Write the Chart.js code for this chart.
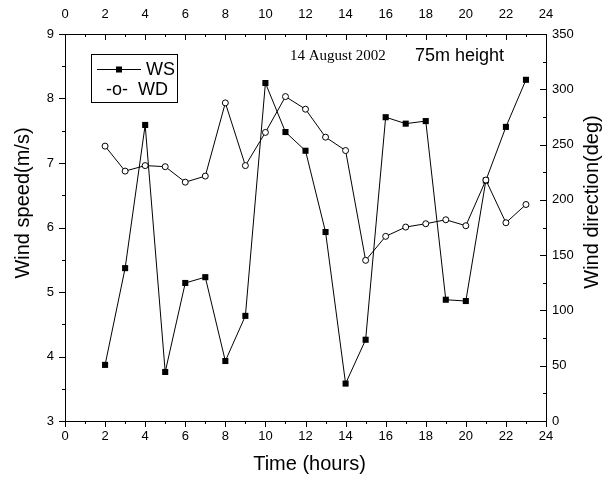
<!DOCTYPE html>
<html>
<head>
<meta charset="utf-8">
<script src="https://cdn.jsdelivr.net/npm/chart.js@4.4.1/dist/chart.umd.min.js"></script>
<style>
  html, body { margin: 0; padding: 0; background: #fff; }
  #wrap { width: 605px; height: 481px; }
</style>
</head>
<body>
<div id="wrap"><canvas id="c" width="605" height="481"></canvas></div>
<script>
// ---- data ----
const hours = [2, 3, 4, 5, 6, 7, 8, 9, 10, 11, 12, 13, 14, 15, 16, 17, 18, 19, 20, 21, 22, 23];
const windSpeed = [3.87, 5.37, 7.59, 3.76, 5.14, 5.23, 3.93, 4.63, 8.24, 7.48, 7.19, 5.93, 3.58, 4.26, 7.71, 7.61, 7.65, 4.88, 4.86, 6.73, 7.56, 8.29];
const windDirection = [248.6, 226, 231, 230, 216, 221.5, 287.7, 231, 261, 293.4, 282, 256.7, 244.6, 145.3, 167, 175.4, 178.4, 182, 176.6, 217.9, 179.3, 195.8];

// ---- axis ranges / tick labels ----
const timeTicks = [0, 2, 4, 6, 8, 10, 12, 14, 16, 18, 20, 22, 24];
const speedTicks = [3, 4, 5, 6, 7, 8, 9];
const directionTicks = [0, 50, 100, 150, 200, 250, 300, 350];

const seriesNames = ['WS', 'WD'];
const xTitle = 'Time (hours)';
const yTitle = 'Wind speed(m/s)';
const y2Title = 'Wind direction(deg)';
const dateNote = '14 August 2002';
const heightNote = '75m height';

Chart.defaults.font.family = '"Liberation Sans", Arial, sans-serif';
Chart.defaults.color = '#000';

const wsPoints = hours.map((h, i) => ({ x: h, y: windSpeed[i] }));
const wdPoints = hours.map((h, i) => ({ x: h, y: windDirection[i] }));

const tickFont = { size: 13, family: '"Liberation Sans", Arial, sans-serif' };

function fixedTicks(values) {
  return function (scale) {
    scale.ticks = values.map(v => ({ value: v }));
  };
}

const decorPlugin = {
  id: 'decor',
  afterDraw(chart) {
    const ctx = chart.ctx;
    const ca = chart.chartArea;
    const sx = chart.scales.x, sy = chart.scales.y, sy2 = chart.scales.y2;
    ctx.save();
    ctx.strokeStyle = '#000';
    ctx.lineWidth = 1;
    const line = (x1, y1, x2, y2) => { ctx.beginPath(); ctx.moveTo(x1, y1); ctx.lineTo(x2, y2); ctx.stroke(); };
    // x ticks (bottom outward, top inward)
    for (let v = timeTicks[0]; v <= timeTicks[timeTicks.length - 1]; v += 1) {
      const px = Math.round(sx.getPixelForValue(v)) + 0.5;
      const len = (v % 2 === 0) ? 6 : 3;
      line(px, ca.bottom, px, ca.bottom + len);
      line(px, ca.top, px, ca.top + len);
    }
    // left ticks outward
    for (let v = speedTicks[0]; v <= speedTicks[speedTicks.length - 1] + 1e-9; v += 0.5) {
      const py = Math.round(sy.getPixelForValue(v)) + 0.5;
      const len = (Math.abs(v - Math.round(v)) < 1e-9) ? 6 : 3;
      line(ca.left - len, py, ca.left, py);
    }
    // right ticks inward
    for (let v = directionTicks[0]; v <= directionTicks[directionTicks.length - 1]; v += 25) {
      const py = Math.round(sy2.getPixelForValue(v)) + 0.5;
      const len = (v % 50 === 0) ? 6 : 3;
      line(ca.right - len, py, ca.right, py);
    }

    // axis titles
    ctx.fillStyle = '#000';
    ctx.font = '20px "Liberation Sans", Arial, sans-serif';
    ctx.textAlign = 'center';
    ctx.textBaseline = 'middle';
    ctx.fillText(xTitle, (ca.left + ca.right) / 2 + 4, 464);
    ctx.save();
    ctx.translate(23, 203);
    ctx.rotate(-Math.PI / 2);
    ctx.fillText(yTitle, 0, 0);
    ctx.restore();
    ctx.save();
    ctx.translate(592, 202);
    ctx.rotate(-Math.PI / 2);
    ctx.fillText(y2Title, 0, 0);
    ctx.restore();

    // legend
    ctx.lineWidth = 1;
    ctx.strokeRect(91.5, 54.5, 86, 48);
    line(97, 69.5, 141, 69.5);
    ctx.fillRect(116, 66.5, 6, 6);
    ctx.font = '18px "Liberation Sans", Arial, sans-serif';
    ctx.textAlign = 'left';
    ctx.fillText(seriesNames[0], 146, 70);
    ctx.fillText('-o-  ' + seriesNames[1], 106, 90);

    // notes
    ctx.font = '15px "Liberation Serif", "Times New Roman", serif';
    ctx.fillText(dateNote, 290, 56);
    ctx.font = '18px "Liberation Sans", Arial, sans-serif';
    ctx.fillText(heightNote, 415, 56);
    ctx.restore();
  }
};

new Chart(document.getElementById('c'), {
  type: 'line',
  data: {
    datasets: [
      {
        label: seriesNames[1],
        data: wdPoints,
        xAxisID: 'x',
        yAxisID: 'y2',
        borderColor: '#000',
        borderWidth: 1,
        pointStyle: 'circle',
        pointRadius: 3,
        pointBorderWidth: 1,
        pointBackgroundColor: '#fff',
        pointBorderColor: '#000',
        tension: 0,
        fill: false
      },
      {
        label: seriesNames[0],
        data: wsPoints,
        xAxisID: 'x',
        yAxisID: 'y',
        borderColor: '#000',
        borderWidth: 1,
        pointStyle: 'rect',
        pointRadius: 4.3,
        pointBorderWidth: 0,
        pointBackgroundColor: '#000',
        pointBorderColor: '#000',
        tension: 0,
        fill: false
      }
    ]
  },
  options: {
    responsive: false,
    animation: false,
    devicePixelRatio: 1,
    layout: { padding: 0 },
    plugins: { legend: { display: false }, tooltip: { enabled: false } },
    scales: {
      x: {
        type: 'linear', position: 'bottom',
        min: timeTicks[0], max: timeTicks[timeTicks.length - 1],
        afterBuildTicks: fixedTicks(timeTicks),
        afterFit: s => { s.height = 60; },
        grid: { display: false, drawTicks: false },
        border: { display: true, color: '#000', width: 1 },
        ticks: { font: tickFont, padding: 8, maxRotation: 0, autoSkip: false }
      },
      x2: {
        type: 'linear', position: 'top', axis: 'x',
        min: timeTicks[0], max: timeTicks[timeTicks.length - 1],
        afterBuildTicks: fixedTicks(timeTicks),
        afterFit: s => { s.height = 34; },
        grid: { display: false, drawTicks: false },
        border: { display: true, color: '#000', width: 1 },
        ticks: { font: tickFont, padding: 12, maxRotation: 0, autoSkip: false }
      },
      y: {
        type: 'linear', position: 'left',
        min: speedTicks[0], max: speedTicks[speedTicks.length - 1],
        afterBuildTicks: fixedTicks(speedTicks),
        afterFit: s => { s.width = 65; },
        grid: { display: false, drawTicks: false },
        border: { display: true, color: '#000', width: 1 },
        ticks: { font: tickFont, padding: 11, autoSkip: false }
      },
      y2: {
        type: 'linear', position: 'right',
        min: directionTicks[0], max: directionTicks[directionTicks.length - 1],
        afterBuildTicks: fixedTicks(directionTicks),
        afterFit: s => { s.width = 59; },
        grid: { display: false, drawTicks: false },
        border: { display: true, color: '#000', width: 1 },
        ticks: { font: tickFont, padding: 6, autoSkip: false }
      }
    }
  },
  plugins: [decorPlugin]
});
</script>
</body>
</html>
